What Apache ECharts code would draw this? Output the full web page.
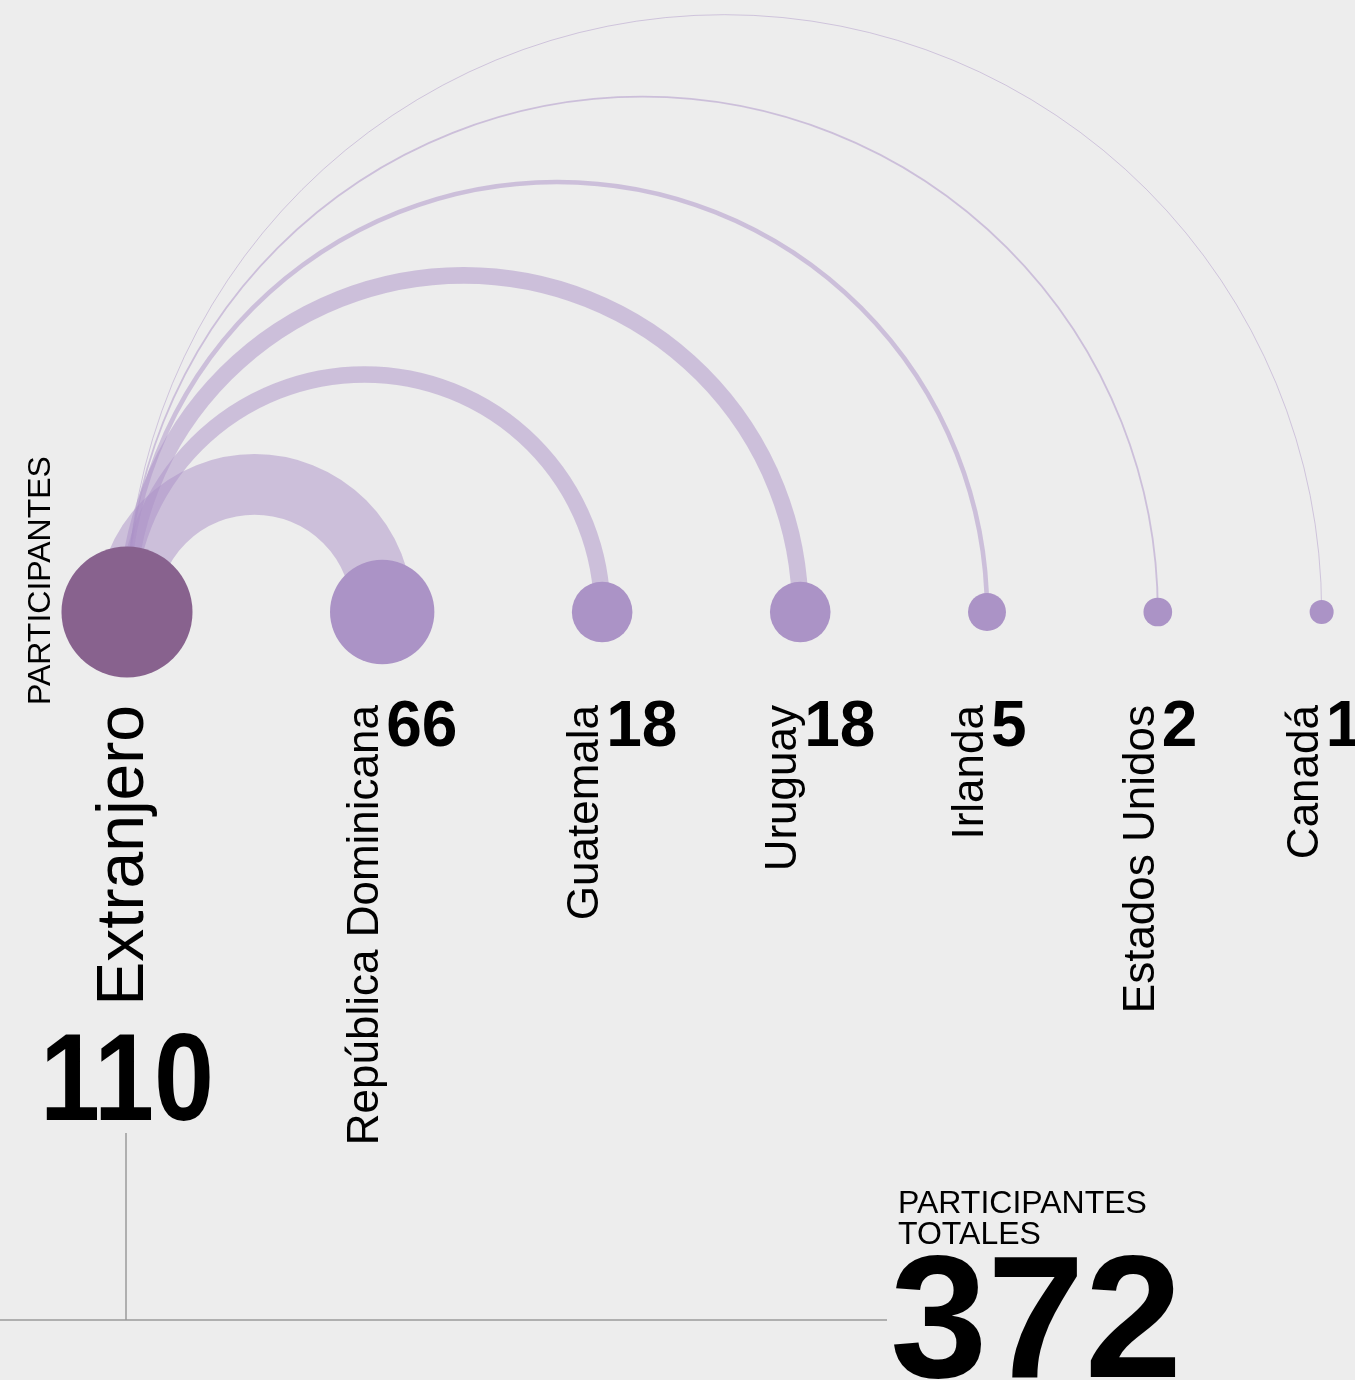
<!DOCTYPE html>
<html>
<head>
<meta charset="utf-8">
<script src="https://cdn.jsdelivr.net/npm/echarts@6/dist/echarts.min.js"></script>
<style>
  html, body { margin: 0; padding: 0; background: #ededed; }
  #chart { width: 1355px; height: 1380px; }
</style>
</head>
<body>
<div id="chart"></div>
<script>
// datos
const sourceName = 'Extranjero'
const sourceValue = 110
const countries = ['República Dominicana', 'Guatemala', 'Uruguay', 'Irlanda', 'Estados Unidos', 'Canadá']
const participants = [66, 18, 18, 5, 2, 1]
const totalLabel = ['PARTICIPANTES', 'TOTALES']
const totalParticipants = 372

const FONT = "'Liberation Sans', Arial, sans-serif"
const baseY = 612
const gap = 137.5

// radio del círculo según participantes
const radius = v => 6.36 + 5.64 * Math.sqrt(v)

// posiciones de los nodos: círculos separados por un hueco constante
const allValues = [sourceValue, ...participants]
const nodeX = []
allValues.forEach((v, i) => {
  if (i === 0) nodeX.push(127)
  else nodeX.push(nodeX[i - 1] + radius(allValues[i - 1]) + gap + radius(v))
})

const chart = echarts.init(document.getElementById('chart'))

const arcData = participants.map((v, i) => [nodeX[0], baseY, nodeX[i + 1], baseY, v])
const nodeData = allValues.map((v, i) => ({
  value: [nodeX[i], baseY, v],
  itemStyle: { color: i === 0 ? '#88628e' : '#ab93c6', opacity: 1 }
}))
const labelData = participants.map((v, i) => [nodeX[i + 1], baseY, v, countries[i]])

const option = {
  backgroundColor: '#ededed',
  animation: false,
  grid: { left: 0, right: 0, top: 0, bottom: 0 },
  xAxis: { type: 'value', min: 0, max: 1355, show: false },
  yAxis: { type: 'value', min: 0, max: 1380, inverse: true, show: false },
  series: [
    {
      // arcos
      type: 'custom',
      clip: false,
      data: arcData,
      renderItem: (params, api) => {
        const s = api.coord([api.value(0), api.value(1)])
        const t = api.coord([api.value(2), api.value(3)])
        return {
          type: 'arc',
          shape: {
            cx: (s[0] + t[0]) / 2,
            cy: s[1],
            r: (t[0] - s[0]) / 2,
            startAngle: Math.PI,
            endAngle: Math.PI * 2,
            clockwise: true
          },
          style: {
            fill: null,
            stroke: 'rgba(171,145,199,0.5)',
            lineWidth: api.value(4) * 0.92
          }
        }
      }
    },
    {
      // nodos
      type: 'scatter',
      data: nodeData,
      symbolSize: d => radius(d[2]) * 2,
      itemStyle: { opacity: 1 },
      emphasis: { disabled: true },
      z: 3
    },
    {
      // etiquetas de países
      type: 'custom',
      clip: false,
      z: 4,
      data: labelData,
      renderItem: (params, api) => {
        const p = api.coord([api.value(0), api.value(1)])
        return {
          type: 'group',
          children: [
            {
              type: 'text',
              x: p[0] - 16,
              y: 705,
              rotation: Math.PI / 2,
              style: {
                text: labelData[params.dataIndex][3],
                font: `44px ${FONT}`,
                fill: '#000',
                align: 'right',
                verticalAlign: 'middle'
              }
            },
            {
              type: 'text',
              x: p[0] + 4,
              y: 728,
              style: {
                text: String(api.value(2)),
                font: `bold 64px ${FONT}`,
                fill: '#000',
                align: 'left',
                verticalAlign: 'middle'
              }
            }
          ]
        }
      }
    },
    {
      // etiqueta del origen
      type: 'custom',
      clip: false,
      z: 4,
      data: [[nodeX[0], baseY, sourceValue]],
      renderItem: (params, api) => {
        const p = api.coord([api.value(0), api.value(1)])
        return {
          type: 'group',
          children: [
            {
              type: 'text',
              x: p[0] - 2,
              y: 705,
              rotation: Math.PI / 2,
              style: {
                text: sourceName,
                font: `66px ${FONT}`,
                fill: '#000',
                align: 'right',
                verticalAlign: 'middle'
              }
            },
            {
              type: 'text',
              x: p[0],
              y: 1086,
              scaleX: 0.87,
              style: {
                text: String(api.value(2)),
                font: `bold 124px ${FONT}`,
                fill: '#000',
                align: 'center',
                verticalAlign: 'middle'
              }
            },
            {
              type: 'line',
              shape: { x1: p[0] - 1, y1: 1133, x2: p[0] - 1, y2: 1320 },
              style: { stroke: '#9a9a9a', lineWidth: 1.5 }
            }
          ]
        }
      }
    }
  ],
  graphic: [
    {
      type: 'text',
      rotation: Math.PI / 2,
      x: 41,
      y: 705,
      style: {
        text: 'PARTICIPANTES',
        font: `32px ${FONT}`,
        fill: '#000',
        align: 'left',
        verticalAlign: 'middle'
      }
    },
    {
      type: 'line',
      shape: { x1: 0, y1: 1320, x2: 887, y2: 1320 },
      style: { stroke: '#9a9a9a', lineWidth: 1.5 }
    },
    {
      type: 'text',
      x: 898,
      y: 1204,
      style: {
        text: totalLabel[0],
        font: `32px ${FONT}`,
        fill: '#000',
        verticalAlign: 'middle'
      }
    },
    {
      type: 'text',
      x: 898,
      y: 1235,
      style: {
        text: totalLabel[1],
        font: `32px ${FONT}`,
        fill: '#000',
        verticalAlign: 'middle'
      }
    },
    {
      type: 'text',
      x: 890,
      y: 1329,
      style: {
        text: String(totalParticipants),
        font: `bold 175px ${FONT}`,
        fill: '#000',
        verticalAlign: 'middle'
      }
    }
  ]
}

chart.setOption(option)
</script>
</body>
</html>
